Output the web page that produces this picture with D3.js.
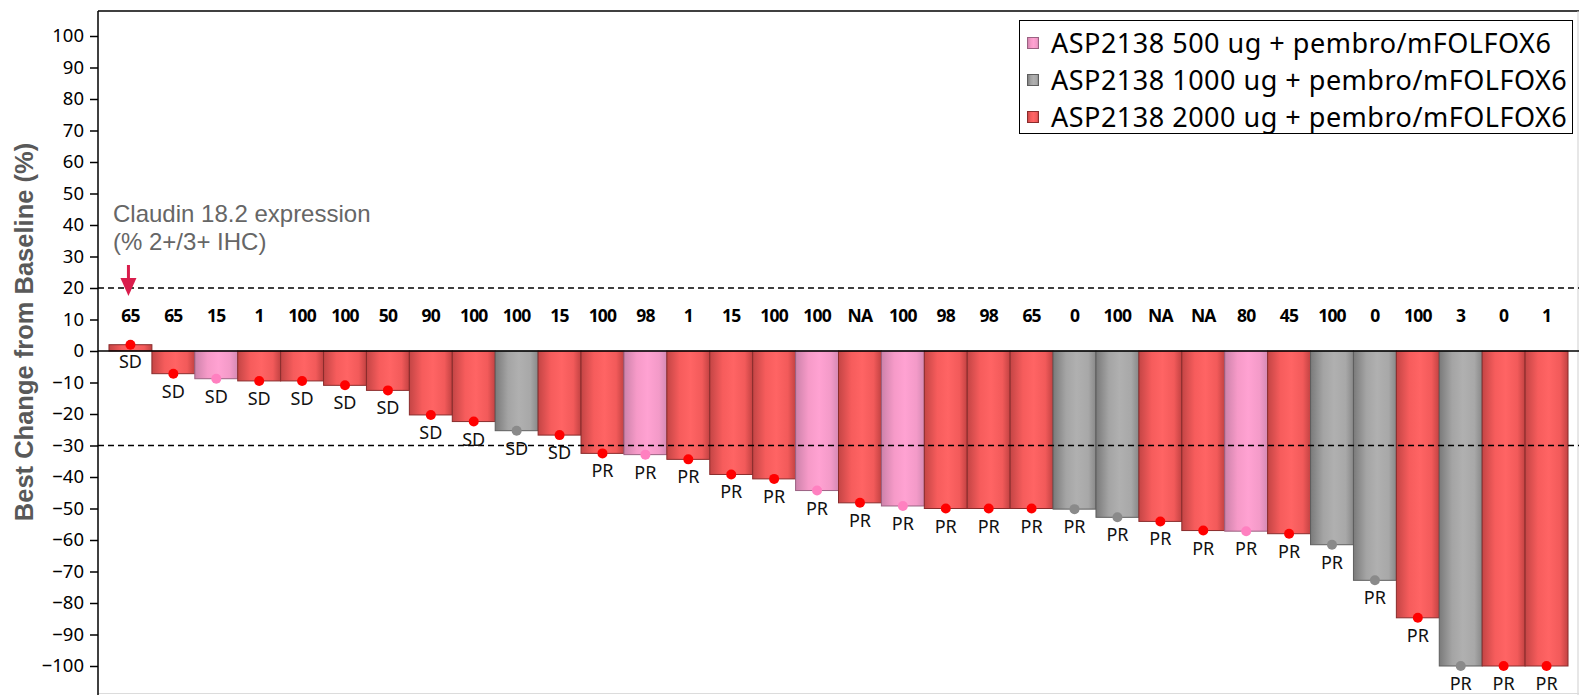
<!DOCTYPE html>
<html>
<head>
<meta charset="utf-8">
<script src="https://cdn.jsdelivr.net/npm/d3@7/dist/d3.min.js"></script>
<style>
  html, body { margin: 0; padding: 0; background: #fff; }
  svg { display: block; }
</style>
</head>
<body>
<svg id="chart" width="1580" height="695"></svg>
<script>
// Best percent change from baseline per patient, sorted waterfall order
const claudinLabels = ["65","65","15","1","100","100","50","90","100","100","15","100","98","1","15","100","100","NA","100","98","98","65","0","100","NA","NA","80","45","100","0","100","3","0","1"];
const bestChange = [2, -7.2, -8.8, -9.5, -9.5, -10.9, -12.5, -20.3, -22.4, -25.3, -26.7, -32.5, -32.9, -34.4, -39.2, -40.6, -44.3, -48.2, -49.2, -50, -50, -50, -50.2, -52.8, -54.1, -57.0, -57.2, -58.0, -61.5, -72.8, -84.7, -100, -100, -100];
const doseGroup = ["2000","2000","500","2000","2000","2000","2000","2000","2000","1000","2000","2000","500","2000","2000","2000","500","2000","500","2000","2000","2000","1000","1000","2000","2000","500","2000","1000","1000","2000","1000","2000","2000"];
const response = ["SD","SD","SD","SD","SD","SD","SD","SD","SD","SD","SD","PR","PR","PR","PR","PR","PR","PR","PR","PR","PR","PR","PR","PR","PR","PR","PR","PR","PR","PR","PR","PR","PR","PR"];
const yTicks = [100, 90, 80, 70, 60, 50, 40, 30, 20, 10, 0, -10, -20, -30, -40, -50, -60, -70, -80, -90, -100];
const legendGroups = ["500", "1000", "2000"];
const legendLabels = ["ASP2138 500 ug + pembro/mFOLFOX6", "ASP2138 1000 ug + pembro/mFOLFOX6", "ASP2138 2000 ug + pembro/mFOLFOX6"];
const thresholds = [20, -30];

const svg = d3.select("#chart");
const plotLeft = 98, plotRight = 1579, plotTop = 11, plotBottom = 695;

const x = d3.scaleBand()
  .domain(d3.range(bestChange.length))
  .range([plotLeft, plotRight])
  .paddingInner(0)
  .paddingOuter(0.256);

const y = d3.scaleLinear().domain([-100, 100]).range([666, 36]);

// Cylinder-style shading per dose group
const palette = {
  "2000": { stops: ["#c44545", "#f65c5c", "#ff6464", "#f25a5a", "#c24242"], stroke: "#8a2c2c", dot: "#ff0000" },
  "500":  { stops: ["#cc82aa", "#f69ac8", "#ffa2d2", "#f39ac8", "#d48ab4"], stroke: "#9a6282", dot: "#ff80c0" },
  "1000": { stops: ["#7a7a7a", "#a4a4a4", "#b0b0b0", "#a8a8a8", "#888888"], stroke: "#5e5e5e", dot: "#8a8a8a" }
};
const defs = svg.append("defs");
Object.entries(palette).forEach(([k, p]) => {
  const g = defs.append("linearGradient").attr("id", "grad" + k)
    .attr("x1", "0%").attr("x2", "100%").attr("y1", "0%").attr("y2", "0%");
  [0, 30, 55, 82, 100].forEach((o, i) => {
    g.append("stop").attr("offset", o + "%").attr("stop-color", p.stops[i]);
  });
});

// Frame
svg.append("line").attr("x1", plotLeft).attr("x2", plotRight).attr("y1", plotTop).attr("y2", plotTop)
  .attr("stroke", "#000").attr("stroke-width", 1.5);
svg.append("line").attr("x1", plotRight - 1).attr("x2", plotRight - 1).attr("y1", plotTop).attr("y2", plotBottom)
  .attr("stroke", "#cfcfcf").attr("stroke-width", 1);
svg.append("line").attr("x1", plotLeft).attr("x2", plotRight).attr("y1", 693.5).attr("y2", 693.5)
  .attr("stroke", "#dcdcdc").attr("stroke-width", 1);

// Bars
svg.append("g").selectAll("rect").data(bestChange).join("rect")
  .attr("x", (d, i) => x(i))
  .attr("width", x.bandwidth())
  .attr("y", d => Math.min(y(d), y(0)))
  .attr("height", d => Math.abs(y(d) - y(0)))
  .attr("fill", (d, i) => `url(#grad${doseGroup[i]})`)
  .attr("stroke", (d, i) => palette[doseGroup[i]].stroke)
  .attr("stroke-width", 1);

// Zero line
svg.append("line").attr("x1", plotLeft).attr("x2", plotRight).attr("y1", y(0)).attr("y2", y(0))
  .attr("stroke", "#000").attr("stroke-width", 1.5);

// Threshold dashed lines
svg.append("g").selectAll("line").data(thresholds).join("line")
  .attr("x1", plotLeft).attr("x2", plotRight)
  .attr("y1", d => y(d)).attr("y2", d => y(d))
  .attr("stroke", "#000").attr("stroke-width", 1.5)
  .attr("stroke-dasharray", "6,4");

// Dots at bar ends
svg.append("g").selectAll("circle").data(bestChange).join("circle")
  .attr("cx", (d, i) => x(i) + x.bandwidth() / 2)
  .attr("cy", d => y(d))
  .attr("r", 5)
  .attr("fill", (d, i) => palette[doseGroup[i]].dot);

// Response labels
svg.append("g").selectAll("text").data(bestChange).join("text")
  .attr("x", (d, i) => x(i) + x.bandwidth() / 2)
  .attr("y", d => d >= 0 ? y(0) + 17 : y(d) + 24)
  .attr("text-anchor", "middle")
  .attr("font-family", "'Noto Sans', 'Open Sans', sans-serif")
  .attr("font-size", 18)
  .attr("fill", "#111")
  .text((d, i) => response[i]);

// Claudin 18.2 expression per patient
svg.append("g").selectAll("text").data(claudinLabels).join("text")
  .attr("x", (d, i) => x(i) + x.bandwidth() / 2)
  .attr("y", 322)
  .attr("text-anchor", "middle")
  .attr("font-family", "'Noto Sans', 'Open Sans', sans-serif")
  .attr("font-weight", "bold")
  .attr("font-size", 17.5)
  .attr("letter-spacing", "-0.8")
  .attr("fill", "#000")
  .text(d => d);

// Annotation and arrow
const ann = svg.append("text")
  .attr("font-family", "'Liberation Sans', Arial, sans-serif")
  .attr("font-size", 24)
  .attr("fill", "#666");
ann.append("tspan").attr("x", 113).attr("y", 222).text("Claudin 18.2 expression");
ann.append("tspan").attr("x", 113).attr("y", 250).text("(% 2+/3+ IHC)");

const ax = x(0) + x.bandwidth() / 2 - 2;
svg.append("line").attr("x1", ax).attr("x2", ax).attr("y1", 265).attr("y2", 282)
  .attr("stroke", "#d91d4c").attr("stroke-width", 3);
svg.append("path")
  .attr("d", `M${ax - 8},278 L${ax + 8},278 L${ax},296 Z`)
  .attr("fill", "#d91d4c");

// Y axis
const yAxis = svg.append("g").attr("transform", `translate(${plotLeft},0)`)
  .call(d3.axisLeft(y).tickValues(yTicks).tickSize(8).tickPadding(6).tickFormat(d3.format("d")));
yAxis.select(".domain").remove();
yAxis.selectAll(".tick line").attr("stroke", "#000").attr("stroke-width", 1.5);
yAxis.selectAll(".tick text")
  .attr("font-family", "'Noto Sans', 'Open Sans', sans-serif")
  .attr("font-size", 18.5)
  .attr("fill", "#000");
svg.append("line").attr("x1", plotLeft).attr("x2", plotLeft).attr("y1", plotTop).attr("y2", plotBottom)
  .attr("stroke", "#000").attr("stroke-width", 1.5);

// Y axis title
svg.append("text")
  .attr("transform", `translate(33,${332}) rotate(-90)`)
  .attr("text-anchor", "middle")
  .attr("font-family", "'Liberation Sans', Arial, sans-serif")
  .attr("font-weight", "bold")
  .attr("font-size", 25.5)
  .attr("fill", "#595959")
  .text("Best Change from Baseline (%)");

// Legend
const lg = svg.append("g");
lg.append("rect").attr("x", 1019.5).attr("y", 20.5).attr("width", 553).attr("height", 113)
  .attr("fill", "#fff").attr("stroke", "#000").attr("stroke-width", 1);
const rows = lg.selectAll("g.row").data(legendGroups).join("g")
  .attr("class", "row")
  .attr("transform", (d, i) => `translate(0,${43 + i * 37})`);
rows.append("rect").attr("x", 1027.5).attr("y", -5.5).attr("width", 11).attr("height", 11)
  .attr("fill", d => `url(#grad${d})`)
  .attr("stroke", d => palette[d].stroke).attr("stroke-width", 1);
rows.append("text")
  .attr("x", 1051).attr("y", 9.5)
  .attr("font-family", "'Noto Sans', 'Open Sans', sans-serif")
  .attr("font-size", 27)
  .attr("letter-spacing", "0.5")
  .attr("fill", "#000")
  .text((d, i) => legendLabels[i]);
</script>
</body>
</html>
